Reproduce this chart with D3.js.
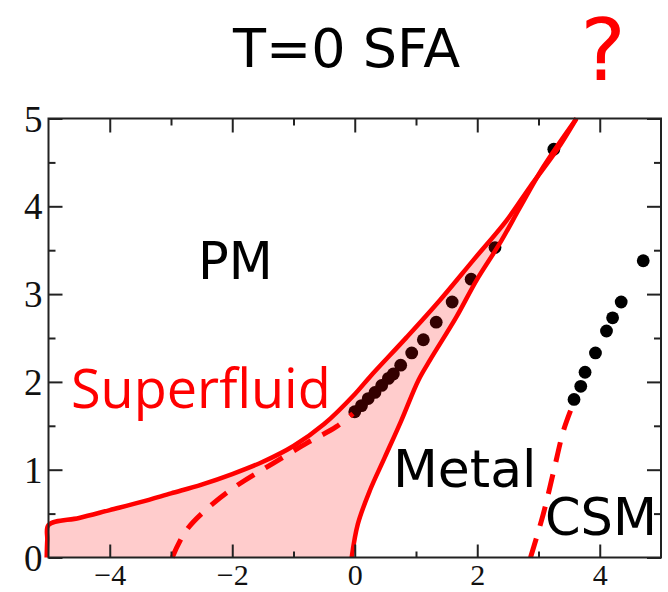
<!DOCTYPE html>
<html>
<head>
<meta charset="utf-8">
<script src="https://cdn.jsdelivr.net/npm/d3@7"></script>
<style>
  html, body { margin: 0; padding: 0; background: #fff; }
  svg { display: block; }
</style>
</head>
<body>
<script>
// Phase boundaries (x = chemical potential-like axis, y = interaction)
const sfUpperBoundary = [
  [-5.03, 0.0], [-5.02, 0.2], [-5.0, 0.37], [-4.5, 0.45], [-4.0, 0.54],
  [-3.5, 0.63], [-3.0, 0.73], [-2.5, 0.83], [-2.0, 0.95], [-1.5, 1.09],
  [-1.0, 1.27], [-0.5, 1.52], [0.0, 1.86], [0.25, 2.06], [0.85, 2.51],
  [1.39, 2.93], [1.94, 3.39], [2.48, 3.84], [2.86, 4.22], [3.30, 4.64],
  [3.62, 5.0]
];
const sfMetalBoundary = [
  [-0.05, 0.0], [0.05, 0.38], [0.245, 0.76], [0.49, 1.14], [0.76, 1.56],
  [1.04, 2.02], [1.23, 2.25], [1.66, 2.74], [1.99, 3.16], [2.37, 3.58],
  [2.70, 3.99], [3.08, 4.45], [3.62, 5.0]
];
const sfDashed = [
  [-2.98, 0.0], [-2.75, 0.31], [-2.32, 0.61], [-1.88, 0.84], [-1.34, 1.07],
  [-0.79, 1.30], [-0.30, 1.49], [-0.03, 1.64]
];
const csmDashed = [
  [2.87, 0.0], [3.08, 0.50], [3.25, 0.99], [3.41, 1.45], [3.55, 1.72]
];

// Numerical points
const sfPointsX = [0.0, 0.11, 0.22, 0.33, 0.44, 0.55, 0.63, 0.75, 0.93, 1.12, 1.33, 1.59, 1.90, 2.29, 3.25];
const sfPointsY = [1.66, 1.73, 1.81, 1.88, 1.96, 2.04, 2.09, 2.19, 2.33, 2.48, 2.68, 2.91, 3.17, 3.53, 4.65];
const csmPointsX = [3.58, 3.69, 3.76, 3.93, 4.11, 4.21, 4.35, 4.71];
const csmPointsY = [1.80, 1.95, 2.11, 2.33, 2.58, 2.73, 2.91, 3.38];

// Ticks
const xMajorTicks = [-4, -2, 0, 2, 4];
const xMinorTicks = [-3, -1, 1, 3];
const yMajorTicks = [0, 1, 2, 3, 4, 5];
const yMinorTicks = [0.5, 1.5, 2.5, 3.5, 4.5];

const W = 668, H = 592;
const x = d3.scaleLinear().domain([-5, 5]).range([48.5, 661]);
const y = d3.scaleLinear().domain([0, 5]).range([557.5, 118.5]);

const svg = d3.select("body").append("svg")
  .attr("width", W).attr("height", H)
  .attr("viewBox", `0 0 ${W} ${H}`);

const line = d3.line()
  .x(d => x(d[0])).y(d => y(d[1]))
  .curve(d3.curveCatmullRom.alpha(0.5));

// Data points (drawn under the translucent superfluid fill)
const zip = (xs, ys) => xs.map((v, i) => [v, ys[i]]);
svg.append("g").selectAll("circle")
  .data(zip(sfPointsX, sfPointsY).concat(zip(csmPointsX, csmPointsY)))
  .join("circle")
  .attr("cx", d => x(d[0])).attr("cy", d => y(d[1]))
  .attr("r", 6.4).attr("fill", "#000");

// Superfluid region fill
const upPath = line(sfUpperBoundary);
const downPath = line(sfMetalBoundary.slice().reverse());
svg.append("path")
  .attr("d", upPath + downPath.replace(/^M/, "L") + "Z")
  .attr("fill", "rgba(255,0,0,0.2)")
  .attr("stroke", "none");

// Dashed boundaries
svg.append("g").selectAll("path")
  .data([sfDashed, csmDashed])
  .join("path")
  .attr("d", line)
  .attr("fill", "none")
  .attr("stroke", "#ff0000")
  .attr("stroke-width", 5)
  .attr("stroke-dasharray", "20,13");

// Solid boundaries
svg.append("g").selectAll("path")
  .data([sfUpperBoundary, sfMetalBoundary])
  .join("path")
  .attr("d", line)
  .attr("fill", "none")
  .attr("stroke", "#ff0000")
  .attr("stroke-width", 4.5)
  .attr("stroke-linejoin", "round");

// Axes: ticks on all four sides, pointing inward
const axisColor = "#222";
function styleAxis(g, size) {
  g.select(".domain").remove();
  g.selectAll(".tick line").attr("stroke", axisColor).attr("stroke-width", 2);
  g.selectAll(".tick text")
    .attr("fill", "#111")
    .style("font-family", "'Liberation Serif', 'Times New Roman', serif")
    .style("font-size", (size || 37) + "px");
}

svg.append("g").attr("transform", `translate(0,${y(0)})`)
  .call(d3.axisBottom(x).tickValues(xMajorTicks).tickSize(-13).tickPadding(6).tickFormat(d3.format("d")))
  .call(g => styleAxis(g, 30));
svg.append("g").attr("transform", `translate(0,${y(0)})`)
  .call(d3.axisBottom(x).tickValues(xMinorTicks).tickSize(-6).tickFormat(""))
  .call(g => styleAxis(g));

svg.append("g").attr("transform", `translate(0,${y(5)})`)
  .call(d3.axisTop(x).tickValues(xMajorTicks).tickSize(-14).tickFormat(""))
  .call(g => styleAxis(g));
svg.append("g").attr("transform", `translate(0,${y(5)})`)
  .call(d3.axisTop(x).tickValues(xMinorTicks).tickSize(-7).tickFormat(""))
  .call(g => styleAxis(g));

svg.append("g").attr("transform", `translate(${x(-5)},0)`)
  .call(d3.axisLeft(y).tickValues(yMajorTicks).tickSize(-14).tickPadding(6).tickFormat(d3.format("d")))
  .call(g => styleAxis(g))
  .call(g => g.selectAll(".tick text").attr("dy", "0.34em"));
svg.append("g").attr("transform", `translate(${x(-5)},0)`)
  .call(d3.axisLeft(y).tickValues(yMinorTicks).tickSize(-7).tickFormat(""))
  .call(g => styleAxis(g));

svg.append("g").attr("transform", `translate(${x(5)},0)`)
  .call(d3.axisRight(y).tickValues(yMajorTicks).tickSize(-14).tickFormat(""))
  .call(g => styleAxis(g));
svg.append("g").attr("transform", `translate(${x(5)},0)`)
  .call(d3.axisRight(y).tickValues(yMinorTicks).tickSize(-7).tickFormat(""))
  .call(g => styleAxis(g));

// Frame
svg.append("rect")
  .attr("x", x(-5)).attr("y", y(5))
  .attr("width", x(5) - x(-5)).attr("height", y(0) - y(5))
  .attr("fill", "none").attr("stroke", axisColor).attr("stroke-width", 2);

// Labels
const sans = "'DejaVu Sans', Verdana, sans-serif";
svg.append("text").attr("x", 233).attr("y", 67)
  .style("font-family", sans).style("font-size", "54px").attr("fill", "#000")
  .text("T=0 SFA");
svg.append("text").attr("x", 603).attr("y", 80)
  .attr("text-anchor", "middle")
  .style("font-family", sans).style("font-size", "86px").attr("fill", "#ff0000")
  .text("?");
svg.append("text").attr("x", 198).attr("y", 279)
  .style("font-family", sans).style("font-size", "51px").attr("fill", "#000")
  .text("PM");
svg.append("text").attr("x", 393).attr("y", 487)
  .style("font-family", sans).style("font-size", "52px").attr("fill", "#000")
  .text("Metal");
svg.append("text").attr("x", 545).attr("y", 535)
  .style("font-family", sans).style("font-size", "51px").attr("fill", "#000")
  .text("CSM");
svg.append("text").attr("x", 71).attr("y", 408)
  .style("font-family", "'Open Sans', 'Noto Sans', sans-serif").style("font-size", "54px")
  .attr("fill", "#ff0000")
  .text("Superfluid");
</script>
</body>
</html>
